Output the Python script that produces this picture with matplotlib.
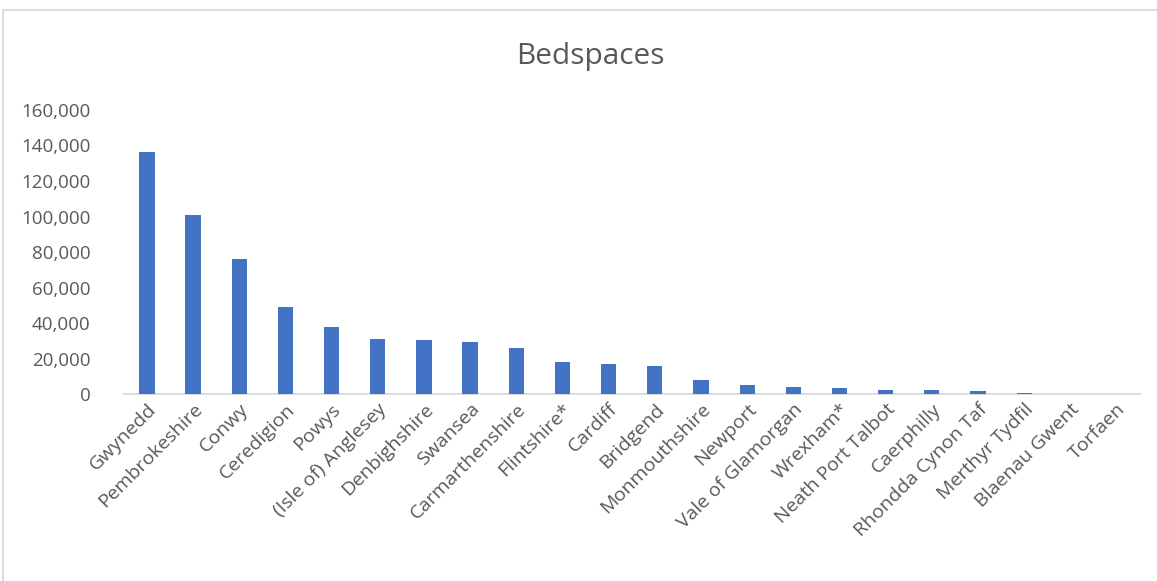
import numpy as np
import matplotlib
matplotlib.use("Agg")
import matplotlib.pyplot as plt
import matplotlib.transforms as mtransforms
from matplotlib.patches import Rectangle
from matplotlib.ticker import FuncFormatter

# Bedspaces by local authority
areas = ["Gwynedd", "Pembrokeshire", "Conwy", "Ceredigion", "Powys",
         "(Isle of) Anglesey", "Denbighshire", "Swansea", "Carmarthenshire",
         "Flintshire*", "Cardiff", "Bridgend", "Monmouthshire", "Newport",
         "Vale of Glamorgan", "Wrexham*", "Neath Port Talbot", "Caerphilly",
         "Rhondda Cynon Taf", "Merthyr Tydfil", "Blaenau Gwent", "Torfaen"]
bedspaces = [136500, 100800, 76000, 49000, 37800,
             31000, 30900, 29700, 26100,
             18200, 17100, 16000, 8000, 5100,
             4100, 3400, 2400, 2400,
             1900, 750, 250, 150]

plt.rcParams['font.family'] = ['Open Sans', 'DejaVu Sans']
grey = '#595959'

fig = plt.figure(figsize=(11.57, 5.81), dpi=100)
ax = fig.add_axes([0.107, 0.321, 0.878, 0.49])

x = np.arange(len(areas))
ax.bar(x, bedspaces, width=0.33, color='#4472C4', zorder=3)

ax.set_xlim(-0.5, len(areas) - 0.5)
ax.set_ylim(0, 160000)
ax.set_yticks(np.arange(0, 160001, 20000))
ax.yaxis.set_major_formatter(FuncFormatter(lambda v, p: "{:,.0f}".format(v)))
ax.set_xticks(x)
ax.set_xticklabels(areas, rotation=45, ha='right', rotation_mode='anchor')

# nudge the rotated labels a little to the left
shift = mtransforms.ScaledTranslation(-5 / 100, 0, fig.dpi_scale_trans)
for lab in ax.get_xticklabels():
    lab.set_transform(lab.get_transform() + shift)

for s in ['top', 'right', 'left']:
    ax.spines[s].set_visible(False)
ax.spines['bottom'].set_color('#d9d9d9')
ax.spines['bottom'].set_linewidth(1.3)
ax.tick_params(axis='y', length=0, colors=grey, labelsize=13.5, pad=24)
ax.tick_params(axis='x', length=0, colors=grey, labelsize=14, pad=4)

fig.text(0.51, 0.902, "Bedspaces", ha='center', va='center', fontsize=21.5, color=grey)

# chart border
fig.patches.append(Rectangle((3 / 1157, -0.01), 1.02, 0.993, transform=fig.transFigure,
                             fill=False, edgecolor='#d9d9d9', linewidth=1.3))

fig.savefig("out.png", dpi=100)
